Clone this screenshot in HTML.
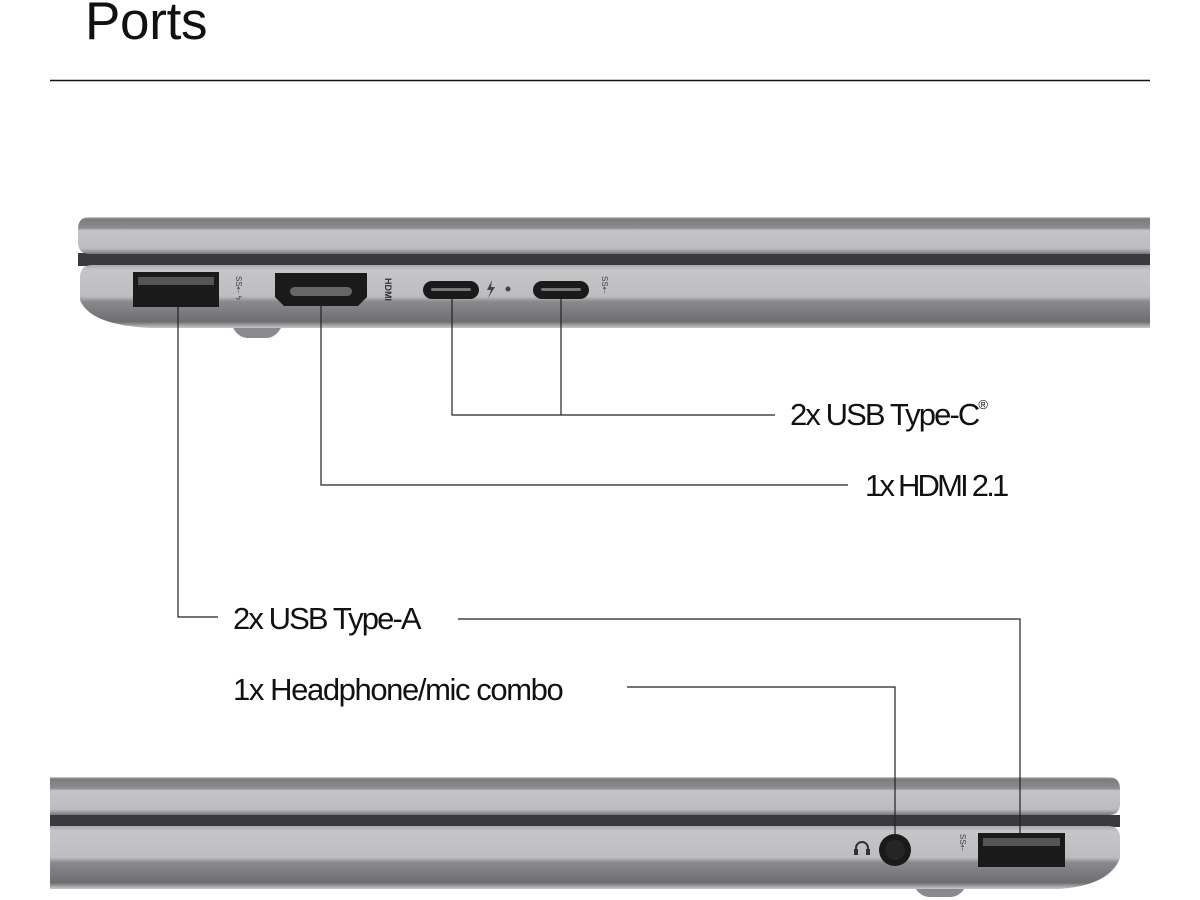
<!DOCTYPE html>
<html><head><meta charset="utf-8"><style>
html,body{margin:0;padding:0;background:#fff;}
body{width:1200px;height:900px;overflow:hidden;position:relative;font-family:"Liberation Sans",sans-serif;}
.t{position:absolute;font-size:31px;letter-spacing:-1.9px;color:#111;white-space:nowrap;line-height:1;}
</style></head><body>
<div style="position:absolute;left:85px;top:-5px;font-size:53px;letter-spacing:-0.3px;color:#111;line-height:1;">Ports</div>
<svg width="1200" height="900" style="position:absolute;left:0;top:0">
<defs>
<linearGradient id="lid" x1="0" y1="0" x2="0" y2="1">
<stop offset="0" stop-color="#d8d8da"/><stop offset="0.05" stop-color="#7a7a7e"/><stop offset="0.3" stop-color="#8e8e92"/><stop offset="0.36" stop-color="#c4c4c7"/><stop offset="0.85" stop-color="#bdbdc0"/><stop offset="1" stop-color="#77777b"/>
</linearGradient>
<linearGradient id="base" x1="0" y1="0" x2="0" y2="1">
<stop offset="0" stop-color="#a9a9ac"/><stop offset="0.08" stop-color="#c6c6c9"/><stop offset="0.5" stop-color="#bdbdc0"/><stop offset="0.58" stop-color="#8a8a8e"/><stop offset="0.9" stop-color="#6e6e72"/><stop offset="1" stop-color="#c8c8ca"/>
</linearGradient>
</defs>
<line x1="50" y1="80.5" x2="1150" y2="80.5" stroke="#111" stroke-width="1.5"/>
<!-- top laptop -->
<rect x="78" y="253" width="1072" height="13" fill="#3a3a3d"/>
<path d="M90 217 H1150 V254 H90 Q78 254 78 242 V229 Q78 217 90 217Z" fill="url(#lid)"/>
<path d="M232 326 H282 Q276 338 266 338 H248 Q238 338 232 326Z" fill="#8a8a8e"/>
<path d="M92 265 H1150 V328 H150 Q90 325 80 300 V278 Q80 265 92 265Z" fill="url(#base)"/>
<rect x="133" y="272" width="86" height="35" fill="#1a1a1a"/>
<rect x="138" y="277" width="76" height="8" fill="#555"/>
<path d="M275 273 H367 V297 L358 306 H284 L275 297Z" fill="#1a1a1a"/>
<rect x="290" y="287" width="62" height="9" rx="4.5" fill="#666"/>
<rect x="423" y="281" width="56" height="18" rx="9" fill="#1a1a1a"/>
<rect x="431" y="288" width="40" height="3" rx="1.5" fill="#777"/>
<rect x="533" y="281" width="56" height="18" rx="9" fill="#1a1a1a"/>
<rect x="541" y="288" width="40" height="3" rx="1.5" fill="#777"/>
<circle cx="508" cy="289" r="2.5" fill="#444"/>
<path d="M492 280 L487 290 H491 L488 298 L495 287 H491 Z" fill="#444"/>
<text x="0" y="0" transform="translate(385,278) rotate(90)" font-size="9" font-weight="bold" fill="#333" font-family="Liberation Sans">HDMI</text>
<text x="0" y="0" transform="translate(236,276) rotate(90)" font-size="8" fill="#444" font-family="Liberation Sans">SS⇠ ϟ</text>
<text x="0" y="0" transform="translate(602,276) rotate(90)" font-size="8" fill="#444" font-family="Liberation Sans">SS⇠</text>
<!-- bottom laptop -->
<rect x="50" y="815" width="1070" height="12" fill="#3a3a3d"/>
<path d="M50 777 H1108 Q1120 777 1120 789 V804 Q1120 815 1108 815 H50Z" fill="url(#lid)"/>
<path d="M914 886 H966 Q960 897 950 897 H930 Q920 897 914 886Z" fill="#8a8a8e"/>
<path d="M50 826 H1108 Q1120 826 1120 838 V858 Q1110 885 1060 889 H50Z" fill="url(#base)"/>
<circle cx="895" cy="850" r="16" fill="#1a1a1a"/><circle cx="895" cy="850" r="10" fill="#252525"/>
<path d="M856 853 V848 A6 6 0 0 1 868 848 V853" stroke="#333" stroke-width="2" fill="none"/>
<rect x="854" y="849" width="4" height="6" fill="#333"/><rect x="866" y="849" width="4" height="6" fill="#333"/>
<rect x="978" y="833" width="87" height="34" fill="#1a1a1a"/>
<rect x="983" y="838" width="77" height="8" fill="#555"/>
<text x="0" y="0" transform="translate(960,834) rotate(90)" font-size="8" fill="#444" font-family="Liberation Sans">SS⇠</text>
<!-- connectors -->
<g stroke="#222" stroke-width="1.2" fill="none">
<path d="M178 307 V617 H218"/>
<path d="M321 305 V485 H848"/>
<path d="M452 299 V415 H775"/>
<path d="M561 299 V415"/>
<path d="M458 619 H1020 V833"/>
<path d="M627 687 H895 V835"/>
</g>
</svg>
<div class="t" style="left:790px;top:399px">2x USB Type-C<sup style="font-size:13px;vertical-align:top;position:relative;top:-1px;letter-spacing:0">®</sup></div>
<div class="t" style="left:865px;top:470px;letter-spacing:-2.8px">1x HDMI 2.1</div>
<div class="t" style="left:233px;top:603px">2x USB Type-A</div>
<div class="t" style="left:233px;top:674px;letter-spacing:-1.4px">1x Headphone/mic combo</div>
</body></html>
